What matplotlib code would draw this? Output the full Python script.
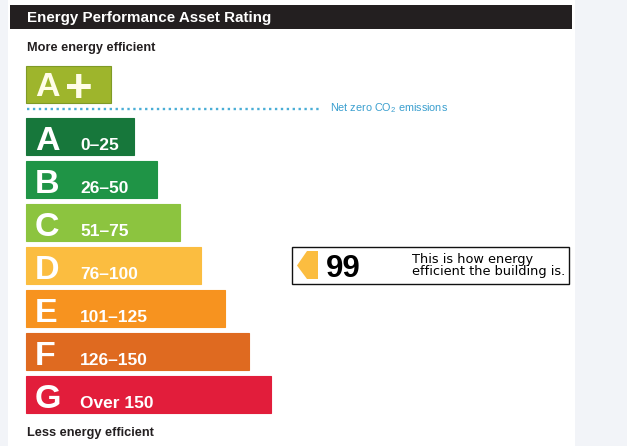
import matplotlib
matplotlib.use("Agg")
import matplotlib.pyplot as plt
from matplotlib.patches import Rectangle, Polygon

plt.rcParams['font.family'] = ['Liberation Sans', 'DejaVu Sans']
plt.rcParams['mathtext.fontset'] = 'custom'
plt.rcParams['mathtext.rm'] = 'Liberation Sans'

# ---- data ----
bands = ['A+', 'A', 'B', 'C', 'D', 'E', 'F', 'G']
ranges = ['', '0–25', '26–50', '51–75', '76–100', '101–125', '126–150', 'Over 150']
bar_length = [85, 108, 131, 154, 175, 199, 223, 245]
band_colors = ['#9eb52c', '#17773b', '#1f9446', '#8cc43f', '#fbbd40',
               '#f7931f', '#df6a20', '#e21d3b']
rating = 99
rating_band = 'D'
title = 'Energy Performance Asset Rating'
top_label = 'More energy efficient'
bottom_label = 'Less energy efficient'
net_zero_label = 'Net zero CO$_2$ emissions'
rating_text = 'This is how energy\nefficient the building is.'

W, H = 627, 446
fig = plt.figure(figsize=(W / 100, H / 100), dpi=100)
ax = fig.add_axes([0, 0, 1, 1])
ax.set_xlim(0, W)
ax.set_ylim(H, 0)
ax.axis('off')

# background side panels
ax.add_patch(Rectangle((0, 0), 8, H, color='#f2f4f8', lw=0, zorder=0))
ax.add_patch(Rectangle((575, 0), W - 575, H, color='#f2f4f8', lw=0, zorder=0))

# header
ax.add_patch(Rectangle((10, 5), 562, 24, color='#231f20', lw=0))
ax.text(27, 22, title, color='white', fontsize=10.9, fontweight='bold', va='baseline')

ax.text(27, 51, top_label, color='#231f20', fontsize=9.2, fontweight='bold', va='baseline')
ax.text(27, 436, bottom_label, color='#231f20', fontsize=9.2, fontweight='bold', va='baseline')

# layout of rows
left = 26
bar_h = 37
y_centers = [84.5] + [136.5 + 43 * k for k in range(len(bands) - 1)]

ax.barh(y_centers, bar_length, left=left, height=bar_h, color=band_colors,
        edgecolor=['#7f9a26'] + band_colors[1:], linewidth=0.8)

for i, (yc, b, r) in enumerate(zip(y_centers, bands, ranges)):
    base = yc + bar_h / 2 - (7 if len(b) > 1 else 5)
    ax.text(left + 9, base, b[0], color='#fffde8' if len(b) > 1 else 'white',
            fontsize=24.5, fontweight='bold', va='baseline')
    if len(b) > 1:
        ax.text(left + 53, yc + 17, b[1:], color='#fffde8', fontsize=34,
                fontweight='bold', va='baseline', ha='center')
    if r:
        ax.text(80, base, r, color='white', fontsize=12.5, fontweight='bold', va='baseline')

# net zero dotted line
ax.plot([27, 322], [109, 109], color='#4aaed6', lw=1.7, ls=(0, (1, 1.5)))
ax.text(330, 108.5, net_zero_label, color='#3a9fcf', fontsize=7.8, va='center')

# rating indicator box
ri = bands.index(rating_band)
yc = y_centers[ri]
top = yc - bar_h / 2
ax.add_patch(Rectangle((292, top), 277, bar_h, facecolor='white', edgecolor='#111111', lw=1.0))
ax.add_patch(Polygon([(297, yc), (307, top + 4), (318, top + 4),
                      (318, top + bar_h - 5), (307, top + bar_h - 5)],
                     closed=True, color=band_colors[ri], lw=0))
ax.text(326, yc + bar_h / 2 - 7, str(rating), color='black', fontsize=22.5,
        fontweight='bold', va='baseline')
ax.text(412, yc + 0.5, rating_text, color='black', fontsize=9.3, va='center',
        linespacing=0.9, family='DejaVu Sans')

fig.savefig('out.png', dpi=100)
